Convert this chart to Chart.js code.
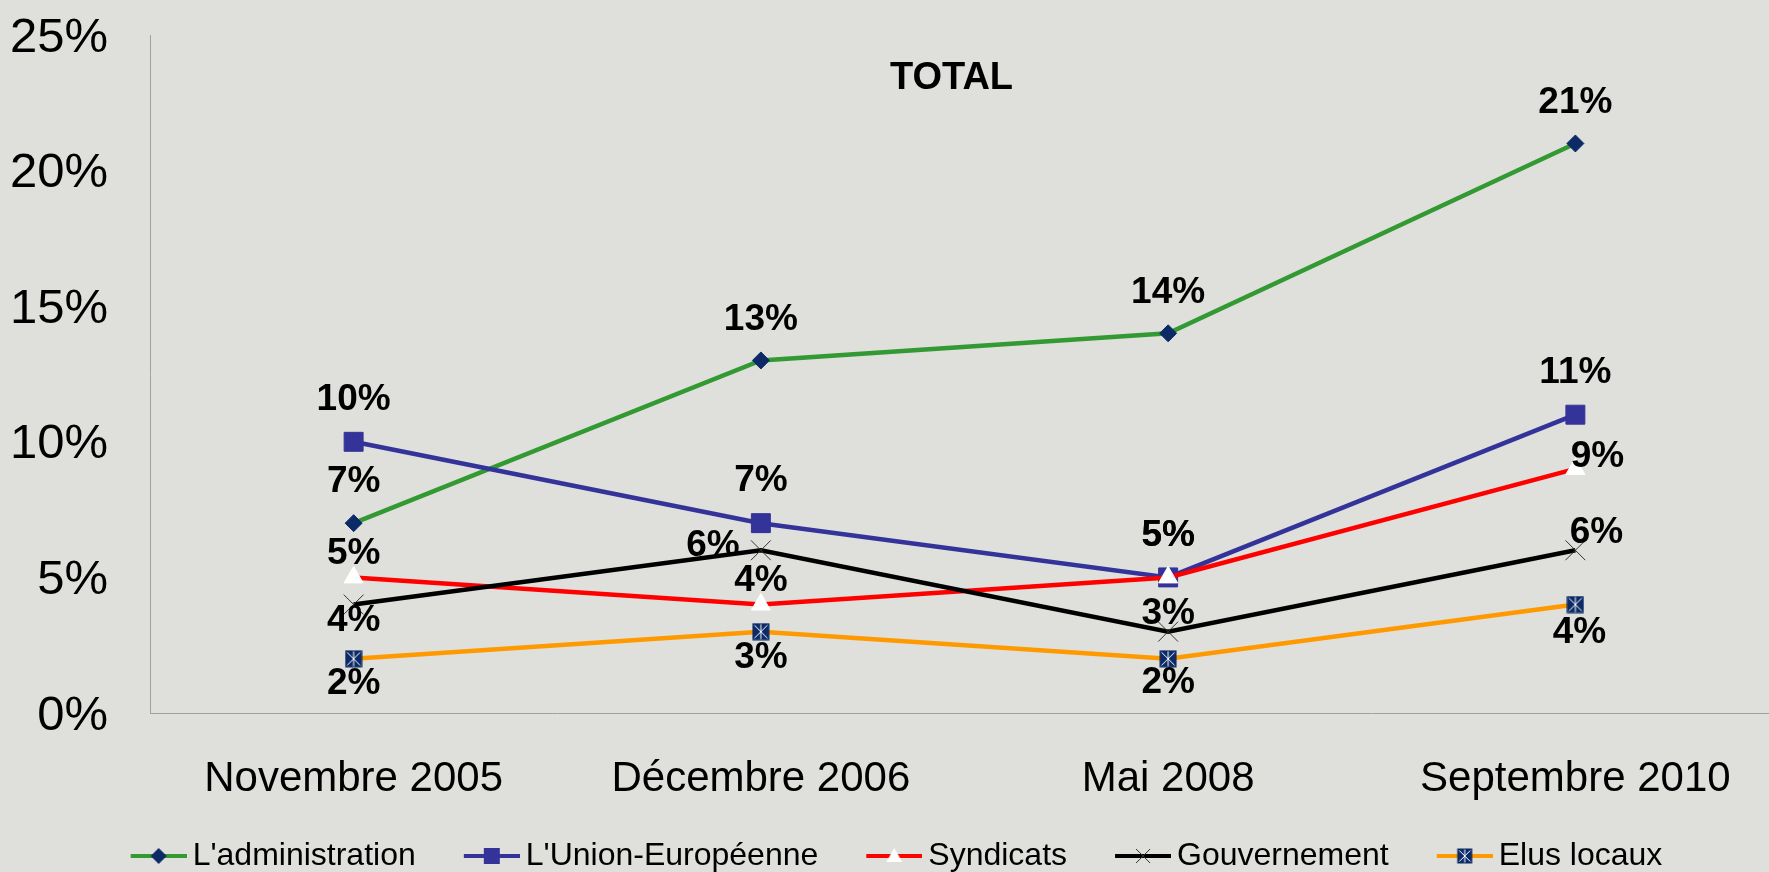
<!DOCTYPE html>
<html>
<head>
<meta charset="utf-8">
<title>TOTAL</title>
<script src="https://cdn.jsdelivr.net/npm/chart.js@4.4.0/dist/chart.umd.min.js"></script>
<style>
  html, body { margin: 0; padding: 0; background: #dfe0db; overflow: hidden; }
  #wrap { width: 1769px; height: 872px; overflow: hidden; }
</style>
</head>
<body>
<div id="wrap"><canvas id="chart" width="1779" height="872"></canvas></div>
<script>
const categories = ["Novembre 2005", "Décembre 2006", "Mai 2008", "Septembre 2010"];
const seriesNames = ["L'administration", "L'Union-Européenne", "Syndicats", "Gouvernement", "Elus locaux"];
const administration = [7, 13, 14, 21];
const unionEuropeenne = [10, 7, 5, 11];
const syndicats = [5, 4, 5, 9];
const gouvernement = [4, 6, 3, 6];
const elusLocaux = [2, 3, 2, 4];
const yTicks = [0, 5, 10, 15, 20, 25];

// where each value label sits relative to its point (dx, dy)
const labelOffsets = [
  [[0, -41], [0, -41], [0, -41], [0, -41]],
  [[0, -42], [0, -42], [0, -42], [0, -42]],
  [[0, -24], [0, -24], [0, -42], [22, -12]],
  [[0, 16], [-48, -4], [0, -18], [21, -17]],
  [[0, 25], [0, 26], [0, 24], [4, 28]],
];

const FONT = "'Liberation Sans', Arial, sans-serif";
Chart.defaults.font.family = FONT;
Chart.defaults.color = "#000";

const NAVY = "#0b2a66";

const drawElusMarker = (ctx, x, y, s) => {
  const h = s / 2;
  ctx.fillStyle = NAVY;
  ctx.fillRect(x - h, y - h, s, s);
  ctx.strokeStyle = "#ffffff";
  ctx.lineWidth = 1;
  ctx.beginPath();
  ctx.moveTo(x - h + 2, y - h + 2);
  ctx.lineTo(x + h - 2, y + h - 2);
  ctx.moveTo(x + h - 2, y - h + 2);
  ctx.lineTo(x - h + 2, y + h - 2);
  ctx.moveTo(x, y - h + 1);
  ctx.lineTo(x, y + h - 1);
  ctx.stroke();
};

const elusPoint = (() => {
  const c = document.createElement("canvas");
  c.width = 18;
  c.height = 18;
  drawElusMarker(c.getContext("2d"), 9, 9, 17);
  return c;
})();

const markerDrawers = [
  (ctx, x, y) => {
    ctx.fillStyle = NAVY;
    ctx.beginPath();
    ctx.moveTo(x, y - 8);
    ctx.lineTo(x + 8, y);
    ctx.lineTo(x, y + 8);
    ctx.lineTo(x - 8, y);
    ctx.closePath();
    ctx.fill();
  },
  (ctx, x, y) => {
    ctx.fillStyle = "#333399";
    ctx.fillRect(x - 8, y - 8, 16, 16);
  },
  (ctx, x, y) => {
    ctx.fillStyle = "#ffffff";
    ctx.beginPath();
    ctx.moveTo(x, y - 8);
    ctx.lineTo(x + 8, y + 6);
    ctx.lineTo(x - 8, y + 6);
    ctx.closePath();
    ctx.fill();
  },
  (ctx, x, y) => {
    ctx.strokeStyle = "#333";
    ctx.lineWidth = 1;
    ctx.beginPath();
    ctx.moveTo(x - 7, y - 7);
    ctx.lineTo(x + 7, y + 7);
    ctx.moveTo(x + 7, y - 7);
    ctx.lineTo(x - 7, y + 7);
    ctx.stroke();
  },
  (ctx, x, y) => drawElusMarker(ctx, x, y, 15),
];

const lineColors = ["#339933", "#333399", "#ff0000", "#000000", "#ff9900"];

// legend symbol: line + marker in the right 56px of the icon
const makeLegendIcon = (i) => {
  const c = document.createElement("canvas");
  c.width = 104;
  c.height = 24;
  const ctx = c.getContext("2d");
  ctx.strokeStyle = lineColors[i];
  ctx.lineWidth = 4;
  ctx.beginPath();
  ctx.moveTo(48, 12);
  ctx.lineTo(104, 12);
  ctx.stroke();
  markerDrawers[i](ctx, 76, 12);
  return c;
};

const legendIcons = lineColors.map((_, i) => makeLegendIcon(i));

const dataLabelPlugin = {
  id: "dataLabels",
  afterDatasetsDraw(chart) {
    const ctx = chart.ctx;
    ctx.save();
    ctx.font = "bold 37px " + FONT;
    ctx.fillStyle = "#000";
    ctx.textAlign = "center";
    ctx.textBaseline = "middle";
    chart.data.datasets.forEach((ds, i) => {
      chart.getDatasetMeta(i).data.forEach((pt, j) => {
        const [dx, dy] = labelOffsets[i][j];
        ctx.fillText(ds.data[j] + "%", pt.x + dx, pt.y + dy);
      });
    });
    ctx.restore();
  },
};

const innerTitlePlugin = {
  id: "innerTitle",
  afterDraw(chart) {
    const { ctx, chartArea } = chart;
    const xs = chart.scales.x;
    const cx = (xs.getPixelForValue(1) + xs.getPixelForValue(2)) / 2 - 13;
    ctx.save();
    ctx.font = "bold 38px " + FONT;
    ctx.fillStyle = "#000";
    ctx.textAlign = "center";
    ctx.textBaseline = "middle";
    ctx.fillText("TOTAL", cx, chartArea.top + 44);
    ctx.restore();
  },
};

const legendShift = {
  id: "legendShift",
  afterLayout(chart) {
    chart.legend.right -= 24;
  },
};

const noScalePadding = (s) => {
  s.paddingLeft = 0;
  s.paddingRight = 0;
  s.paddingTop = 0;
  s.paddingBottom = 0;
};

const series = [administration, unionEuropeenne, syndicats, gouvernement, elusLocaux];

const pointSetup = [
  { pointStyle: "rectRot", pointRadius: 8.5, pointBackgroundColor: NAVY, pointBorderColor: NAVY, pointBorderWidth: 1 },
  { pointStyle: "rect", pointRadius: 13.4, pointBackgroundColor: "#333399", pointBorderColor: "#333399", pointBorderWidth: 1 },
  { pointStyle: "triangle", pointRadius: 11, pointBackgroundColor: "#ffffff", pointBorderColor: "#ffffff", pointBorderWidth: 1 },
  { pointStyle: "crossRot", pointRadius: 14, pointBackgroundColor: "#333", pointBorderColor: "#333", pointBorderWidth: 1 },
  { pointStyle: elusPoint, pointRadius: 9, pointBackgroundColor: NAVY, pointBorderColor: NAVY, pointBorderWidth: 0 },
];

const datasets = series.map((values, i) => ({
  label: seriesNames[i],
  data: values,
  borderColor: lineColors[i],
  backgroundColor: lineColors[i],
  borderWidth: 4.5,
  tension: 0,
  fill: false,
  order: series.length - 1 - i,
  ...pointSetup[i],
}));

new Chart(document.getElementById("chart"), {
  type: "line",
  data: { labels: categories, datasets },
  options: {
    responsive: false,
    animation: false,
    events: [],
    layout: { autoPadding: false, padding: { top: 35, right: 0, left: 0, bottom: 0 } },
    scales: {
      x: {
        offset: true,
        grid: { display: false, drawTicks: false },
        border: { display: true, color: "#a0a0a0", width: 1 },
        ticks: { padding: 41, font: { size: 42 }, color: "#000", maxRotation: 0 },
        afterFit: (s) => {
          s.height = 117;
          noScalePadding(s);
        },
      },
      y: {
        min: 0,
        max: 25,
        grid: { display: false, drawTicks: false },
        border: { display: true, color: "#a0a0a0", width: 1 },
        afterBuildTicks: (s) => { s.ticks = yTicks.map((v) => ({ value: v })); },
        ticks: { padding: 42, labelOffset: 3, font: { size: 49 }, color: "#000", callback: (v) => v + "%" },
        afterFit: (s) => {
          s.width = 150;
          noScalePadding(s);
        },
      },
    },
    plugins: {
      title: { display: false },
      tooltip: { enabled: false },
      legend: {
        position: "bottom",
        maxHeight: 42,
        labels: {
          usePointStyle: true,
          pointStyleWidth: 84,
          padding: 10,
          font: { size: 32 },
          color: "#000",
          generateLabels: (chart) => chart.data.datasets.map((ds, i) => ({
            text: ds.label,
            pointStyle: legendIcons[i],
            fillStyle: "transparent",
            strokeStyle: "transparent",
            lineWidth: 0,
            hidden: false,
            datasetIndex: i,
            fontColor: "#000",
          })),
        },
      },
    },
  },
  plugins: [dataLabelPlugin, innerTitlePlugin, legendShift],
});
</script>
</body>
</html>
